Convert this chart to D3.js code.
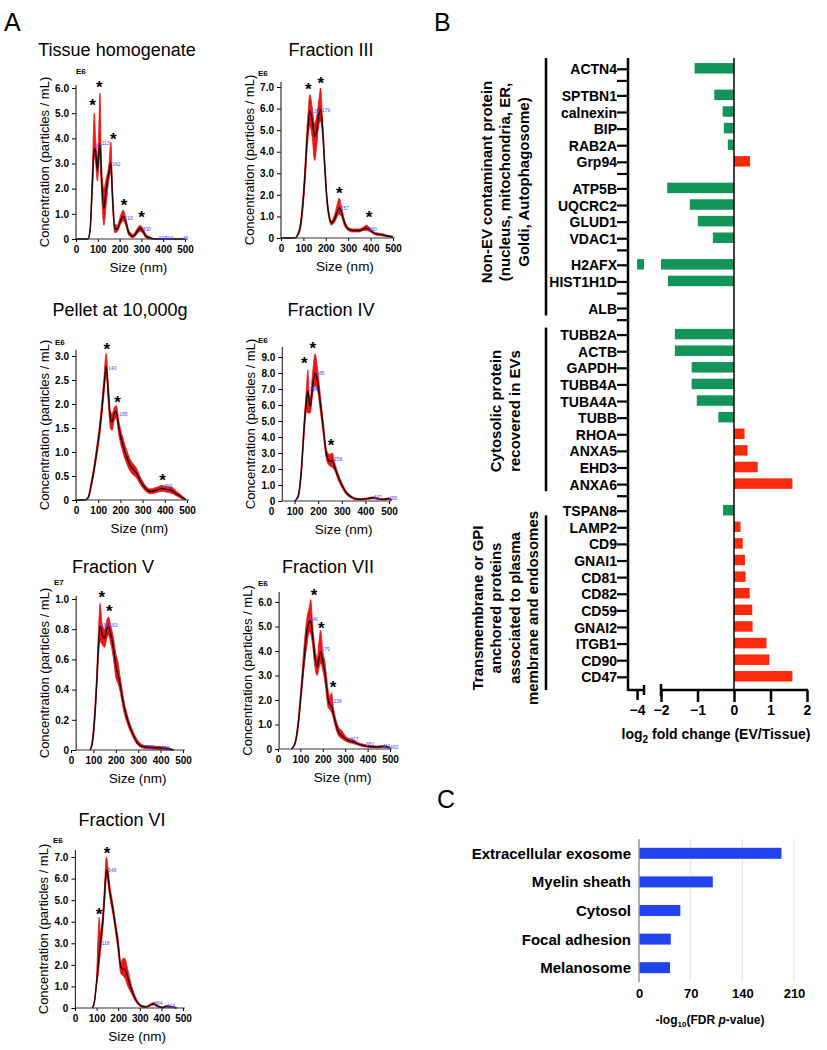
<!DOCTYPE html>
<html>
<head>
<meta charset="utf-8">
<script src="https://cdnjs.cloudflare.com/ajax/libs/d3/7.8.5/d3.min.js"></script>
<style>
  body { margin: 0; background: #fff; }
  svg text { font-family: "Liberation Sans", Arial, sans-serif; }
</style>
</head>
<body>
<div id="figure"></div>
<script>
// Width and height of the whole figure
var width = 827;
var height = 1050;

var bandRed = '#ee1414';
var barRed = '#fb2a0c';
var barGreen = '#13955a';
var barBlue = '#2142ef';
var peakBlue = '#3f4cff';

// ---------------- Panel A: NTA size distributions ----------------
// each row: [size nm, mean, lower, upper]  (concentration in E6 / E7 units)
var tissueCurve = [[0,0,0,0],[55,0,0,0],[65,0.4,0.3,0.5],[75,2.2,1.8,2.8],[84,3.6,3.3,5.0],[90,3.5,3.0,4.0],[98,2.7,2.3,3.2],[104,3.3,2.8,4.2],[110,3.8,3.4,5.8],[117,2.4,1.9,3.0],[128,1.2,0.55,2.0],[138,1.9,1.3,2.4],[150,2.6,2.3,2.9],[160,3.0,2.6,3.85],[167,1.8,1.4,2.2],[178,0.4,0.25,0.6],[190,0.4,0.3,0.55],[205,0.75,0.6,0.95],[217,0.9,0.72,1.15],[228,0.7,0.55,0.85],[242,0.25,0.15,0.35],[262,0.1,0.05,0.18],[280,0.3,0.2,0.4],[293,0.44,0.3,0.55],[305,0.35,0.25,0.45],[320,0.12,0.05,0.2],[340,0.04,0,0.08],[360,0,0,0.02],[500,0,0,0]];
var fraction3Curve = [[0,0,0,0],[60,0,0,0],[75,0.15,0.1,0.2],[90,0.8,0.6,1.0],[105,2.6,2.2,3.0],[118,4.8,4.3,5.4],[129,5.9,5.2,6.65],[140,5.4,4.6,6.0],[150,4.7,3.6,5.3],[160,5.0,4.3,5.7],[170,5.8,5.3,6.5],[177,5.95,5.4,6.95],[185,5.2,4.8,5.6],[195,3.4,3.1,3.7],[205,1.8,1.6,2.0],[215,1.0,0.85,1.15],[225,0.7,0.6,0.8],[240,0.9,0.75,1.1],[252,1.25,1.0,1.6],[260,1.4,1.1,1.85],[270,1.2,1.0,1.45],[282,0.75,0.6,0.9],[300,0.42,0.35,0.5],[320,0.35,0.28,0.42],[350,0.35,0.28,0.42],[370,0.42,0.35,0.52],[381,0.46,0.35,0.6],[395,0.38,0.3,0.48],[420,0.2,0.15,0.26],[450,0.15,0.1,0.2],[480,0.08,0.05,0.12],[500,0.05,0.02,0.08]];
var pelletCurve = [[0,0,0,0],[40,0,0,0],[55,0.05,0.03,0.08],[70,0.35,0.28,0.42],[90,0.9,0.8,1.0],[110,1.6,1.45,1.75],[125,2.3,2.15,2.5],[136,2.78,2.6,3.05],[146,2.2,2.0,2.4],[155,1.7,1.5,1.85],[163,1.63,1.45,1.8],[172,1.8,1.65,1.92],[181,1.84,1.7,1.97],[195,1.45,1.3,1.6],[214,1.1,0.95,1.25],[244,0.72,0.6,0.85],[274,0.55,0.45,0.65],[290,0.4,0.32,0.48],[310,0.26,0.2,0.32],[334,0.18,0.13,0.23],[360,0.2,0.15,0.26],[387,0.24,0.18,0.3],[410,0.22,0.16,0.28],[430,0.2,0.14,0.27],[455,0.12,0.08,0.17],[480,0.05,0.02,0.08],[495,0.01,0,0.02]];
var fraction4Curve = [[0,0,0,0],[100,0,0,0],[115,0.3,0.2,0.4],[128,1.8,1.5,2.1],[140,4.5,4.0,5.0],[150,6.3,5.6,7.0],[156,6.9,5.5,8.2],[162,6.2,5.5,6.7],[167,5.9,5.5,6.5],[175,7.0,6.5,7.8],[187,8.0,7.2,9.2],[197,7.5,6.9,8.3],[210,6.0,5.5,6.5],[222,4.5,4.1,4.9],[235,2.9,2.6,3.2],[248,2.5,2.2,2.9],[260,2.5,2.1,3.0],[270,2.1,1.9,2.4],[285,1.5,1.3,1.7],[300,1.0,0.85,1.15],[320,0.5,0.4,0.6],[340,0.25,0.18,0.32],[360,0.12,0.08,0.18],[385,0.1,0.06,0.15],[410,0.15,0.1,0.2],[434,0.2,0.14,0.26],[460,0.12,0.08,0.17],[480,0.1,0.06,0.15],[500,0.15,0.1,0.2],[510,0.05,0.02,0.08]];
var fraction5Curve = [[0,0,0,0],[85,0,0,0],[95,0.05,0.03,0.07],[105,0.2,0.16,0.25],[115,0.45,0.4,0.52],[123,0.7,0.62,0.8],[130,0.82,0.72,0.97],[138,0.77,0.7,0.84],[150,0.74,0.68,0.8],[160,0.8,0.74,0.86],[167,0.82,0.76,0.88],[178,0.76,0.7,0.82],[190,0.67,0.6,0.74],[200,0.56,0.48,0.64],[210,0.5,0.44,0.58],[220,0.43,0.38,0.48],[235,0.3,0.26,0.34],[250,0.21,0.18,0.24],[275,0.11,0.09,0.13],[300,0.04,0.03,0.06],[330,0.02,0.01,0.03],[380,0.015,0.005,0.025],[420,0.01,0,0.02],[460,0,0,0]];
var fraction7Curve = [[0,0,0,0],[60,0,0,0],[75,0.2,0.15,0.25],[90,1.0,0.85,1.2],[105,2.5,2.2,2.8],[120,4.0,3.6,4.6],[130,4.85,4.3,5.4],[140,5.2,4.8,5.8],[146,5.25,4.7,6.1],[155,4.6,4.2,5.0],[164,3.8,3.4,4.2],[175,3.35,3.0,3.7],[183,3.7,3.3,4.4],[190,3.96,3.5,4.85],[200,3.6,3.2,4.0],[210,3.1,2.7,3.5],[224,2.0,1.7,2.4],[232,1.8,1.6,2.1],[239,1.75,1.5,2.3],[247,1.45,1.25,1.7],[256,1.1,0.9,1.3],[270,0.7,0.55,0.9],[285,0.55,0.42,0.75],[306,0.38,0.3,0.48],[336,0.3,0.22,0.38],[360,0.2,0.15,0.25],[380,0.14,0.1,0.2],[410,0.1,0.06,0.14],[440,0.08,0.05,0.12],[470,0.1,0.06,0.14],[500,0.05,0.02,0.08]];
var fraction6Curve = [[0,0,0,0],[80,0,0,0],[90,0.3,0.25,0.35],[99,1.1,0.95,1.3],[108,2.0,1.6,3.6],[112,2.5,2.0,4.2],[118,3.0,2.6,3.5],[130,4.2,3.8,4.6],[138,5.4,5.0,5.9],[145,6.4,6.0,7.0],[152,6.2,5.8,6.6],[160,5.5,5.2,5.8],[176,4.55,4.3,4.8],[190,3.6,3.35,3.85],[200,2.9,2.6,3.2],[212,1.9,1.6,2.1],[222,1.8,1.5,2.3],[230,1.8,1.4,2.3],[245,1.4,1.0,1.75],[260,0.9,0.7,1.1],[275,0.5,0.4,0.65],[290,0.25,0.18,0.32],[310,0.08,0.04,0.12],[330,0.05,0.02,0.08],[350,0.15,0.1,0.2],[364,0.2,0.14,0.26],[380,0.1,0.06,0.14],[405,0.03,0.01,0.05],[425,0.08,0.04,0.12],[445,0.05,0.02,0.08],[470,0,0,0.02]];

// asterisks over the peaks: [size nm, height]
var tissueStars = [[76,5.5],[107,6.2],[171,4.15],[221,1.5],[301,1.03]];
var fraction3Stars = [[122,7.1],[178,7.37],[260,2.27],[393,1.16]];
var pelletStars = [[139,3.23],[187,2.12],[390,0.5]];
var fraction4Stars = [[141,8.9],[177,9.83],[255,3.76]];
var fraction5Stars = [[137,1.04],[171,0.95]];
var fraction7Stars = [[161,6.43],[193,5.09],[246,2.7]];
var fraction6Stars = [[111,4.55],[148,7.39]];

// blue peak labels from the NTA software: [size nm, height, label]
var tissuePeaks = [[87,3.7,"87"],[113,3.8,"113"],[162,3.0,"162"],[218,0.85,"218"],[300,0.38,"300"],[373,0.03,"373"],[404,0.03,"404"],[485,0.03,"48"]];
var fraction3Peaks = [[129,5.9,"130"],[177,5.95,"179"],[262,1.4,"257"],[386,0.42,"380"]];
var pelletPeaks = [[140,2.75,"140"],[190,1.8,"195"],[392,0.3,"390"]];
var fraction4Peaks = [[158,7.0,"158"],[187,8.0,"185"],[262,2.6,"258"],[430,0.22,"432"],[496,0.2,"495"]];
var fraction5Peaks = [[126,0.83,"138"],[166,0.83,"163"],[328,0.02,"322"],[398,0.01,"393"]];
var fraction7Peaks = [[135,5.3,"146"],[190,4.1,"179"],[243,1.95,"238"],[318,0.4,"317"],[388,0.2,"381"],[462,0.12,"461"],[495,0.08,"492"]];
var fraction6Peaks = [[118,3.0,"118"],[148,6.4,"148"],[362,0.22,"364"],[420,0.1,"418"]];

var sizeTicks = [0, 100, 200, 300, 400, 500];
var ticksE6six = [0, 1, 2, 3, 4, 5, 6];
var ticksE6seven = [0, 1, 2, 3, 4, 5, 6, 7];
var ticksE6nine = [0, 1, 2, 3, 4, 5, 6, 7, 8, 9];
var ticksPellet = [0, 0.5, 1, 1.5, 2, 2.5, 3];
var ticksE7 = [0, 0.2, 0.4, 0.6, 0.8, 1.0];

// where each small plot sits on the page
var ntaLayout = [
  { title: "Tissue homogenate", curve: tissueCurve, stars: tissueStars, peaks: tissuePeaks, ticks: ticksE6six, exp: "E6",
    titleX: 117, titleY: 56, x0: 76, x500: 185, axisNm: 0, y0: 239, yTop: 88, topVal: 6, axisTop: 85, expX: 76, expY: 74 },
  { title: "Fraction III", curve: fraction3Curve, stars: fraction3Stars, peaks: fraction3Peaks, ticks: ticksE6seven, exp: "E6",
    titleX: 331, titleY: 56, x0: 281, x500: 393, axisNm: 0, y0: 238, yTop: 87, topVal: 7, axisTop: 82, expX: 258, expY: 76 },
  { title: "Pellet at 10,000g", curve: pelletCurve, stars: pelletStars, peaks: pelletPeaks, ticks: ticksPellet, exp: "E6",
    titleX: 120, titleY: 316, x0: 76, x500: 187, axisNm: 0, y0: 500, yTop: 356, topVal: 3, axisTop: 350, expX: 55, expY: 345 },
  { title: "Fraction IV", curve: fraction4Curve, stars: fraction4Stars, peaks: fraction4Peaks, ticks: ticksE6nine, exp: "E6",
    titleX: 331, titleY: 316, x0: 271, x500: 389, axisNm: 48, y0: 501, yTop: 357, topVal: 9, axisTop: 347, expX: 258, expY: 343 },
  { title: "Fraction V", curve: fraction5Curve, stars: fraction5Stars, peaks: fraction5Peaks, ticks: ticksE7, exp: "E7",
    titleX: 113, titleY: 573, x0: 71, x500: 183, axisNm: 23, y0: 750, yTop: 599, topVal: 1, axisTop: 596, expX: 54, expY: 585 },
  { title: "Fraction VII", curve: fraction7Curve, stars: fraction7Stars, peaks: fraction7Peaks, ticks: ticksE6six, exp: "E6",
    titleX: 328, titleY: 573, x0: 278, x500: 390, axisNm: 5, y0: 749, yTop: 602, topVal: 6, axisTop: 592, expX: 258, expY: 586 },
  { title: "Fraction VI", curve: fraction6Curve, stars: fraction6Stars, peaks: fraction6Peaks, ticks: ticksE6seven, exp: "E6",
    titleX: 122, titleY: 826, x0: 75, x500: 183, axisNm: 2, y0: 1008, yTop: 857, topVal: 7, axisTop: 850, expX: 53, expY: 843 }
];

// ---------------- Panel B: log2 fold change EV / tissue ----------------
// "" = empty spacer row between groups
var bCategories = ["ACTN4","","SPTBN1","calnexin","BIP","RAB2A","Grp94","","ATP5B","UQCRC2","GLUD1","VDAC1","",
  "H2AFX","HIST1H1D","","ALB","","TUBB2A","ACTB","GAPDH","TUBB4A","TUBA4A","TUBB","RHOA","ANXA5","EHD3","ANXA6","",
  "TSPAN8","LAMP2","CD9","GNAI1","CD81","CD82","CD59","GNAI2","ITGB1","CD90","CD47"];
var bValues = [-1.08,null,-0.54,-0.31,-0.28,-0.17,0.44,null,-1.83,-1.21,-0.99,-0.58,null,
  -4.0,-1.81,null,null,null,-1.62,-1.62,-1.16,-1.16,-1.02,-0.43,0.29,0.37,0.65,1.60,null,
  -0.30,0.18,0.24,0.30,0.32,0.43,0.50,0.51,0.89,0.97,1.60];
var bTicksMain = [-2, -1, 0, 1, 2];
var bTicksBreak = [-4];
var bGroups = [
  { lines: ["Non-EV contaminant protein", "(nucleus, mitochondria, ER,", "Goldi, Autophagosome)"], from: "ACTN4", to: "ALB" },
  { lines: ["Cytosolic protein", "recovered in EVs"], from: "TUBB2A", to: "ANXA6" },
  { lines: ["Transmembrane or GPI", "anchored proteins", "associated to plasma", "membrane and endosomes"], from: "LAMP2", to: "CD47" }
];

// ---------------- Panel C: GO cellular component ----------------
var cTerms = ["Extracellular exosome", "Myelin sheath", "Cytosol", "Focal adhesion", "Melanosome"];
var cValues = [193, 100, 56, 43, 42];
var cTicks = [0, 70, 140, 210];

var svg = d3.select("#figure")
  .append("svg")
  .attr("width", width)
  .attr("height", height);

// panel letters
svg.append("text").attr("x", 4).attr("y", 31).attr("font-size", 25).text("A");
svg.append("text").attr("x", 434).attr("y", 31).attr("font-size", 25).text("B");
svg.append("text").attr("x", 437).attr("y", 808).attr("font-size", 25).text("C");

function styleAxis(g, size) {
  g.attr("font-family", "Liberation Sans, Arial, sans-serif")
    .attr("font-size", size)
    .attr("font-weight", "bold");
  g.select(".domain").remove();
}

function drawNta(p) {
  var x = d3.scaleLinear().domain([0, 500]).range([p.x0, p.x500]);
  var y = d3.scaleLinear().domain([0, p.topVal]).range([p.y0, p.yTop]);
  var axisX = x(p.axisNm);
  var g = svg.append("g");
  var pts = p.curve.filter(function(d) { return d[0] >= p.axisNm; });

  // red band = spread between replicate measurements
  var band = d3.area()
    .x(function(d) { return x(d[0]); })
    .y0(function(d) { return y(d[2]); })
    .y1(function(d) { return y(d[3]); })
    .curve(d3.curveMonotoneX);
  g.append("path").datum(pts)
    .attr("d", band)
    .attr("fill", bandRed)
    .attr("stroke", bandRed)
    .attr("stroke-width", 0.8);

  var line = d3.line()
    .x(function(d) { return x(d[0]); })
    .y(function(d) { return y(d[1]); })
    .curve(d3.curveMonotoneX);
  g.append("path").datum(pts)
    .attr("d", line)
    .attr("fill", "none")
    .attr("stroke", "#1a0a0a")
    .attr("stroke-width", 1.4);

  // axes
  var yAxis = d3.axisLeft(y).tickValues(p.ticks).tickSize(4).tickPadding(3)
    .tickFormat(function(d) { return d === 0 ? "0" : d3.format(".1f")(d); });
  g.append("g").attr("transform", "translate(" + axisX + ",0)").call(yAxis).call(styleAxis, 10);

  var xAxis = d3.axisBottom(x).tickValues(sizeTicks).tickSize(3).tickPadding(4);
  g.append("g").attr("transform", "translate(0," + p.y0 + ")").call(xAxis).call(styleAxis, 10);

  g.append("line").attr("x1", axisX).attr("x2", axisX).attr("y1", p.axisTop).attr("y2", p.y0)
    .attr("stroke", "#333").attr("stroke-width", 1.2);
  g.append("line").attr("x1", axisX).attr("x2", x(508)).attr("y1", p.y0).attr("y2", p.y0)
    .attr("stroke", "#333").attr("stroke-width", 1.2);

  // peak labels
  g.selectAll(".peak").data(p.peaks).enter().append("text")
    .attr("x", function(d) { return x(d[0]) + 1; })
    .attr("y", function(d) { return y(d[1]) + 2; })
    .attr("font-size", 5)
    .attr("fill", peakBlue)
    .text(function(d) { return d[2]; });

  // asterisks
  g.selectAll(".star").data(p.stars).enter().append("text")
    .attr("x", function(d) { return x(d[0]); })
    .attr("y", function(d) { return y(d[1]) + 10; })
    .attr("text-anchor", "middle")
    .attr("font-size", 17)
    .attr("font-weight", "bold")
    .text("*");

  // titles
  g.append("text").attr("x", p.titleX).attr("y", p.titleY)
    .attr("text-anchor", "middle").attr("font-size", 18).text(p.title);
  g.append("text").attr("x", p.expX).attr("y", p.expY)
    .attr("font-size", 8).attr("font-weight", "bold").text(p.exp);
  g.append("text")
    .attr("transform", "translate(" + (axisX - 32) + "," + ((p.y0 + p.axisTop) / 2) + ") rotate(-90)")
    .attr("text-anchor", "middle").attr("dy", "0.35em")
    .attr("font-size", 13).text("Concentration (particles / mL)");
  g.append("text")
    .attr("x", (axisX + x(500)) / 2 + 8).attr("y", p.y0 + 33)
    .attr("text-anchor", "middle").attr("font-size", 13.5).text("Size (nm)");
}

ntaLayout.forEach(drawNta);

// ---------------- Panel B ----------------
// spacer rows are shorter than data rows
var slots = [];
var s = 0;
bCategories.forEach(function(c, i) {
  if (i > 0) {
    if (c === "") s += 0.7;
    else if (bCategories[i - 1] === "") s += 0.9;
    else s += 1;
  }
  slots.push(s);
});
var bY = d3.scaleLinear().domain([0, s]).range([69.3, 677.3]);
var bStep = bY(1) - bY(0);
var rowY = function(name) { return bY(slots[bCategories.indexOf(name)]); };

var bxMain = d3.scaleLinear().domain([-2, 2]).range([661, 807]);
var bxBreak = d3.scaleLinear().domain([-4.25, -3.81]).range([628, 644]);
var bAxisX = 628;
var bTop = 58;
var bBottom = 690;

var bRows = bCategories.map(function(c, i) { return { name: c, value: bValues[i], y: bY(slots[i]) }; });
var barH = 10.5;

var bChart = svg.append("g");

// bars on the main part of the axis
bChart.selectAll(".bar").data(bRows.filter(function(d) { return d.value !== null; })).enter()
  .append("rect")
  .attr("x", function(d) { return bxMain(Math.max(-2, Math.min(0, d.value))); })
  .attr("y", function(d) { return d.y - 1 - barH / 2; })
  .attr("width", function(d) { return Math.abs(bxMain(Math.max(-2, d.value)) - bxMain(0)); })
  .attr("height", barH)
  .attr("fill", function(d) { return d.value < 0 ? barGreen : barRed; });

// piece of the bar beyond the axis break
bChart.selectAll(".barBreak").data(bRows.filter(function(d) { return d.value !== null && d.value < -2; })).enter()
  .append("rect")
  .attr("x", function(d) { return bxBreak(d.value); })
  .attr("y", function(d) { return d.y - 1 - barH / 2; })
  .attr("width", function(d) { return bxBreak(-3.81) - bxBreak(d.value); })
  .attr("height", barH)
  .attr("fill", barGreen);

// zero line
bChart.append("line").attr("x1", bxMain(0)).attr("x2", bxMain(0)).attr("y1", bTop).attr("y2", bBottom)
  .attr("stroke", "#000").attr("stroke-width", 1.5);

// category axis
bChart.append("line").attr("x1", bAxisX).attr("x2", bAxisX).attr("y1", bTop).attr("y2", bBottom + 1)
  .attr("stroke", "#000").attr("stroke-width", 2.5);
bChart.selectAll(".ytick").data(bRows).enter().append("line")
  .attr("x1", bAxisX - 11).attr("x2", bAxisX)
  .attr("y1", function(d) { return d.y; }).attr("y2", function(d) { return d.y; })
  .attr("stroke", "#000").attr("stroke-width", 2.2);
bChart.selectAll(".ylabel").data(bRows.filter(function(d) { return d.name !== ""; })).enter().append("text")
  .attr("x", bAxisX - 11).attr("y", function(d) { return d.y; })
  .attr("dy", "0.36em").attr("text-anchor", "end")
  .attr("font-size", 14).attr("font-weight", "bold")
  .text(function(d) { return d.name; });

// value axis, broken between -4 and -2
var bxAxisMain = d3.axisBottom(bxMain).tickValues(bTicksMain).tickSize(12).tickPadding(3).tickFormat(d3.format("d"));
bChart.append("g").attr("transform", "translate(0," + bBottom + ")").call(bxAxisMain).call(styleAxis, 14);
var bxAxisBreak = d3.axisBottom(bxBreak).tickValues(bTicksBreak).tickSize(10).tickPadding(5).tickFormat(d3.format("d"));
bChart.append("g").attr("transform", "translate(0," + bBottom + ")").call(bxAxisBreak).call(styleAxis, 14);
bChart.selectAll(".tick line").attr("stroke-width", 2.5);

bChart.append("line").attr("x1", bAxisX).attr("x2", 644).attr("y1", bBottom).attr("y2", bBottom)
  .attr("stroke", "#000").attr("stroke-width", 2.5);
bChart.append("line").attr("x1", 661).attr("x2", 808).attr("y1", bBottom).attr("y2", bBottom)
  .attr("stroke", "#000").attr("stroke-width", 2.5);
bChart.append("line").attr("x1", 644).attr("x2", 644).attr("y1", bBottom - 5).attr("y2", bBottom + 5)
  .attr("stroke", "#000").attr("stroke-width", 2.5);
bChart.append("line").attr("x1", 661).attr("x2", 661).attr("y1", bBottom - 6).attr("y2", bBottom + 6)
  .attr("stroke", "#000").attr("stroke-width", 2.5);

var bTitle = bChart.append("text").attr("x", 716).attr("y", 739)
  .attr("text-anchor", "middle").attr("font-size", 14).attr("font-weight", "bold");
bTitle.append("tspan").text("log");
bTitle.append("tspan").attr("font-size", 10).attr("dy", 4).text("2");
bTitle.append("tspan").attr("dy", -4).text(" fold change (EV/Tissue)");

// group brackets and labels
var bracketX = 546;
var groupTops = [bTop, rowY("TUBB2A") - 0.45 * bStep, rowY("TSPAN8") + 0.25 * bStep];
var groupBottoms = [rowY("ALB") + 0.42 * bStep, rowY("ANXA6") + 0.4 * bStep, bBottom];
var groupCenters = [182, 411, 608];
bGroups.forEach(function(grp, i) {
  bChart.append("line").attr("x1", bracketX).attr("x2", bracketX)
    .attr("y1", groupTops[i]).attr("y2", groupBottoms[i])
    .attr("stroke", "#000").attr("stroke-width", 2.5);
  var lh = 18.5;
  var t = bChart.append("text")
    .attr("transform", "translate(505," + groupCenters[i] + ") rotate(-90)")
    .attr("text-anchor", "middle").attr("font-size", 15).attr("font-weight", "bold");
  grp.lines.forEach(function(l, k) {
    t.append("tspan").attr("x", 0)
      .attr("y", (k - (grp.lines.length - 1) / 2) * lh)
      .attr("dy", "0.35em")
      .text(l);
  });
});

// ---------------- Panel C ----------------
var cx = d3.scaleLinear().domain([0, 210]).range([639, 794]);
var cy = d3.scalePoint().domain(cTerms).range([839, 982]).padding(0.5);
var cChart = svg.append("g");

cChart.selectAll(".grid").data(cTicks.slice(1)).enter().append("line")
  .attr("x1", function(d) { return cx(d); }).attr("x2", function(d) { return cx(d); })
  .attr("y1", 839).attr("y2", 982)
  .attr("stroke", "#e2e2e2").attr("stroke-width", 1);

cChart.selectAll(".cbar").data(cTerms).enter().append("rect")
  .attr("x", cx(0))
  .attr("y", function(d) { return cy(d) - 5.5; })
  .attr("width", function(d, i) { return cx(cValues[i]) - cx(0); })
  .attr("height", 11)
  .attr("fill", barBlue);

cChart.append("line").attr("x1", cx(0)).attr("x2", cx(0)).attr("y1", 839).attr("y2", 982)
  .attr("stroke", "#999").attr("stroke-width", 1.5);

cChart.selectAll(".clabel").data(cTerms).enter().append("text")
  .attr("x", 631).attr("y", function(d) { return cy(d); })
  .attr("dy", "0.36em").attr("text-anchor", "end")
  .attr("font-size", 15).attr("font-weight", "bold")
  .text(function(d) { return d; });

var cAxis = d3.axisBottom(cx).tickValues(cTicks).tickSize(0).tickPadding(7);
cChart.append("g").attr("transform", "translate(0,982)").call(cAxis).call(styleAxis, 13);

var cTitle = cChart.append("text").attr("x", 710).attr("y", 1024)
  .attr("text-anchor", "middle").attr("font-size", 12).attr("font-weight", "bold");
cTitle.append("tspan").text("-log");
cTitle.append("tspan").attr("font-size", 8).attr("dy", 3).text("10");
cTitle.append("tspan").attr("dy", -3).text("(FDR ");
cTitle.append("tspan").attr("font-style", "italic").text("p");
cTitle.append("tspan").text("-value)");
</script>
</body>
</html>
